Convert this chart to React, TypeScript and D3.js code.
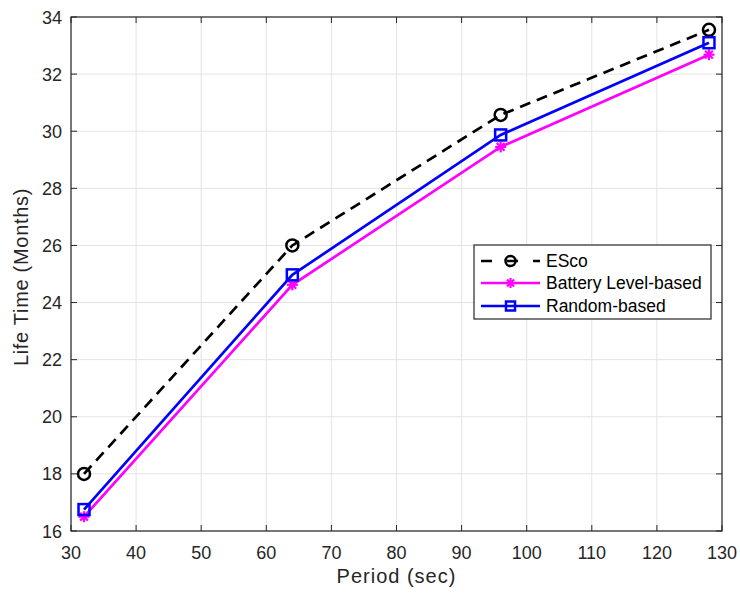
import React from "react";
import * as d3 from "d3";

const periods = [32, 64, 96, 128];
const escoLife = [18.0, 26.0, 30.57, 33.55];
const batteryLife = [16.5, 24.62, 29.45, 32.68];
const randomLife = [16.75, 24.97, 29.87, 33.1];
const xTicks = [30, 40, 50, 60, 70, 80, 90, 100, 110, 120, 130];
const yTicks = [16, 18, 20, 22, 24, 26, 28, 30, 32, 34];
const seriesNames = ["ESco", "Battery Level-based", "Random-based"];

const W = 740, H = 594;
const L = 71, R = 722, T = 17, B = 531;

export default function App() {
  const x = d3.scaleLinear().domain([30, 130]).range([L, R]);
  const y = d3.scaleLinear().domain([16, 34]).range([B, T]);
  const line = d3.line<[number, number]>().x(d => x(d[0])).y(d => y(d[1]));
  const pts = (vals: number[]) => periods.map((p, i) => [p, vals[i]] as [number, number]);
  const font = "'Liberation Sans', Arial, Helvetica, sans-serif";
  const axisColor = "#262626";
  const tk = 6;
  const lw = 2.7;

  const star = (cx: number, cy: number, r: number, color: string, key: string) => (
    <g key={key} stroke={color} strokeWidth={2.2}>
      {[0, 45, 90, 135].map(a => {
        const rad = (a * Math.PI) / 180;
        return <line key={a} x1={cx - r * Math.cos(rad)} y1={cy - r * Math.sin(rad)} x2={cx + r * Math.cos(rad)} y2={cy + r * Math.sin(rad)} />;
      })}
    </g>
  );

  const legendX = 474, legendY = 245, legendW = 237, legendH = 74;
  const rowY = [261, 283, 306];

  return (
    <svg width={W} height={H} style={{ position: "absolute", left: 0, top: 0, background: "#fff" }} fontFamily={font}>
      <rect x={0} y={0} width={W} height={H} fill="#fff" />
      {xTicks.map(t => (
        <line key={"gx" + t} x1={x(t)} x2={x(t)} y1={T} y2={B} stroke="#e3e3e3" strokeWidth={1} />
      ))}
      {yTicks.map(t => (
        <line key={"gy" + t} x1={L} x2={R} y1={y(t)} y2={y(t)} stroke="#e3e3e3" strokeWidth={1} />
      ))}
      <path d={line(pts(escoLife)) || ""} fill="none" stroke="#000" strokeWidth={lw} strokeDasharray="11,7" />
      <path d={line(pts(batteryLife)) || ""} fill="none" stroke="#ff00ff" strokeWidth={lw} />
      <path d={line(pts(randomLife)) || ""} fill="none" stroke="#0000ff" strokeWidth={lw} />
      {pts(escoLife).map((d, i) => (
        <circle key={"ce" + i} cx={x(d[0])} cy={y(d[1])} r={6} fill="none" stroke="#000" strokeWidth={2.5} />
      ))}
      {pts(batteryLife).map((d, i) => star(x(d[0]), y(d[1]), 5.5, "#ff00ff", "sb" + i))}
      {pts(randomLife).map((d, i) => (
        <rect key={"rr" + i} x={x(d[0]) - 5.5} y={y(d[1]) - 5.5} width={11} height={11} fill="none" stroke="#0000ff" strokeWidth={2.5} />
      ))}
      <rect x={L} y={T} width={R - L} height={B - T} fill="none" stroke={axisColor} strokeWidth={1.2} />
      {xTicks.map(t => (
        <g key={"tx" + t}>
          <line x1={x(t)} x2={x(t)} y1={B} y2={B - tk} stroke={axisColor} />
          <line x1={x(t)} x2={x(t)} y1={T} y2={T + tk} stroke={axisColor} />
          <text x={x(t)} y={B + 28} textAnchor="middle" fontSize={18} fill={axisColor}>{t}</text>
        </g>
      ))}
      {yTicks.map(t => (
        <g key={"ty" + t}>
          <line x1={L} x2={L + tk} y1={y(t)} y2={y(t)} stroke={axisColor} />
          <line x1={R} x2={R - tk} y1={y(t)} y2={y(t)} stroke={axisColor} />
          <text x={L - 9} y={y(t) + 6.5} textAnchor="end" fontSize={18} fill={axisColor}>{t}</text>
        </g>
      ))}
      <text x={(L + R) / 2} y={583} textAnchor="middle" fontSize={20} letterSpacing={1} fill={axisColor}>Period (sec)</text>
      <text transform={`translate(28,277) rotate(-90)`} textAnchor="middle" fontSize={20} letterSpacing={0.7} fill={axisColor}>Life Time (Months)</text>
      <rect x={legendX} y={legendY} width={legendW} height={legendH} fill="#fff" stroke={axisColor} strokeWidth={1.2} />
      <line x1={481} x2={540} y1={rowY[0]} y2={rowY[0]} stroke="#000" strokeWidth={lw} strokeDasharray="11,15" strokeDashoffset={0} />
      <circle cx={510.5} cy={rowY[0]} r={5} fill="none" stroke="#000" strokeWidth={2.5} />
      <line x1={481} x2={540} y1={rowY[1]} y2={rowY[1]} stroke="#ff00ff" strokeWidth={lw} />
      {star(510.5, rowY[1], 5, "#ff00ff", "lstar")}
      <line x1={481} x2={540} y1={rowY[2]} y2={rowY[2]} stroke="#0000ff" strokeWidth={lw} />
      <rect x={506} y={rowY[2] - 4.5} width={9} height={9} fill="none" stroke="#0000ff" strokeWidth={2.5} />
      {seriesNames.map((n, i) => (
        <text key={n} x={546} y={rowY[i] + 6} fontSize={17.5} fill="#000">{n}</text>
      ))}
    </svg>
  );
}
